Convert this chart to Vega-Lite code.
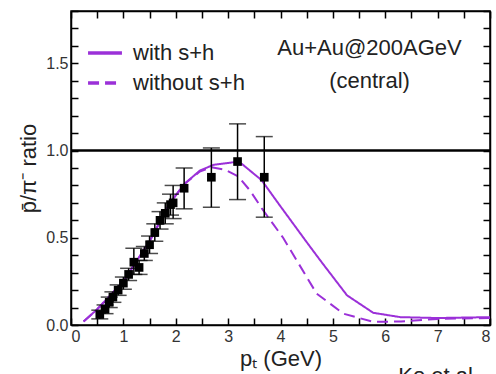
{
  "$schema": "https://vega.github.io/schema/vega-lite/v6.json",
  "width": 419,
  "height": 314,
  "autosize": {"type": "none"},
  "padding": {"left": 71, "top": 11, "right": 6, "bottom": 49},
  "background": "white",
  "config": {
    "font": "Liberation Sans",
    "view": {"stroke": "black", "strokeWidth": 1.5},
    "axis": {
      "domainColor": "black",
      "domainWidth": 1.5,
      "tickColor": "black",
      "tickWidth": 1.5,
      "tickSize": -7,
      "grid": false,
      "labelFont": "Liberation Sans",
      "labelFontSize": 16,
      "labelColor": "#333333",
      "titleFont": "Liberation Sans",
      "titleFontWeight": "normal",
      "titleColor": "#222222",
      "titleFontSize": 22
    },
    "legend": {
      "orient": "none",
      "legendX": 15,
      "legendY": 23,
      "labelFont": "Liberation Sans",
      "labelFontSize": 22,
      "labelColor": "#222222",
      "symbolType": "stroke",
      "symbolSize": 1150,
      "symbolStrokeWidth": 3.5,
      "symbolStrokeColor": "#9b30d8",
      "rowPadding": -9,
      "labelOffset": 9,
      "title": null
    }
  },
  "datasets": {
    "points": [
      {"pt": 0.55, "r": 0.06, "lo": 0.035, "hi": 0.085},
      {"pt": 0.65, "r": 0.09, "lo": 0.065, "hi": 0.115},
      {"pt": 0.73, "r": 0.13, "lo": 0.1, "hi": 0.16},
      {"pt": 0.8, "r": 0.16, "lo": 0.13, "hi": 0.19},
      {"pt": 0.9, "r": 0.2, "lo": 0.17, "hi": 0.23},
      {"pt": 1.0, "r": 0.24, "lo": 0.205, "hi": 0.275},
      {"pt": 1.1, "r": 0.29, "lo": 0.255, "hi": 0.325},
      {"pt": 1.2, "r": 0.36, "lo": 0.29, "hi": 0.44},
      {"pt": 1.3, "r": 0.33, "lo": 0.29, "hi": 0.37},
      {"pt": 1.4, "r": 0.41, "lo": 0.37, "hi": 0.45},
      {"pt": 1.5, "r": 0.46, "lo": 0.41, "hi": 0.51},
      {"pt": 1.6, "r": 0.53, "lo": 0.48, "hi": 0.58},
      {"pt": 1.7, "r": 0.6, "lo": 0.55, "hi": 0.65},
      {"pt": 1.8, "r": 0.64, "lo": 0.58, "hi": 0.7},
      {"pt": 1.9, "r": 0.69, "lo": 0.63, "hi": 0.75},
      {"pt": 1.95, "r": 0.7, "lo": 0.61, "hi": 0.8},
      {"pt": 2.16, "r": 0.784, "lo": 0.666, "hi": 0.9},
      {"pt": 2.68, "r": 0.847, "lo": 0.675, "hi": 1.015},
      {"pt": 3.18, "r": 0.937, "lo": 0.719, "hi": 1.153},
      {"pt": 3.69, "r": 0.847, "lo": 0.618, "hi": 1.08}
    ],
    "curves": [
      {"pt": 0.24, "r": 0.02, "model": "with s+h"},
      {"pt": 0.5, "r": 0.09, "model": "with s+h"},
      {"pt": 1.0, "r": 0.25, "model": "with s+h"},
      {"pt": 1.5, "r": 0.48, "model": "with s+h"},
      {"pt": 1.89, "r": 0.7, "model": "with s+h"},
      {"pt": 2.17, "r": 0.81, "model": "with s+h"},
      {"pt": 2.46, "r": 0.885, "model": "with s+h"},
      {"pt": 2.72, "r": 0.918, "model": "with s+h"},
      {"pt": 3.1, "r": 0.933, "model": "with s+h"},
      {"pt": 3.26, "r": 0.924, "model": "with s+h"},
      {"pt": 3.64, "r": 0.83, "model": "with s+h"},
      {"pt": 4.0, "r": 0.68, "model": "with s+h"},
      {"pt": 4.5, "r": 0.475, "model": "with s+h"},
      {"pt": 4.76, "r": 0.37, "model": "with s+h"},
      {"pt": 5.27, "r": 0.17, "model": "with s+h"},
      {"pt": 5.77, "r": 0.07, "model": "with s+h"},
      {"pt": 6.29, "r": 0.045, "model": "with s+h"},
      {"pt": 7.0, "r": 0.04, "model": "with s+h"},
      {"pt": 8.0, "r": 0.045, "model": "with s+h"},
      {"pt": 0.24, "r": 0.02, "model": "without s+h"},
      {"pt": 0.5, "r": 0.09, "model": "without s+h"},
      {"pt": 1.0, "r": 0.25, "model": "without s+h"},
      {"pt": 1.5, "r": 0.48, "model": "without s+h"},
      {"pt": 1.89, "r": 0.7, "model": "without s+h"},
      {"pt": 2.17, "r": 0.81, "model": "without s+h"},
      {"pt": 2.46, "r": 0.88, "model": "without s+h"},
      {"pt": 2.68, "r": 0.905, "model": "without s+h"},
      {"pt": 2.94, "r": 0.89, "model": "without s+h"},
      {"pt": 3.2, "r": 0.85, "model": "without s+h"},
      {"pt": 3.42, "r": 0.77, "model": "without s+h"},
      {"pt": 3.64, "r": 0.67, "model": "without s+h"},
      {"pt": 4.05, "r": 0.5, "model": "without s+h"},
      {"pt": 4.69, "r": 0.18, "model": "without s+h"},
      {"pt": 5.2, "r": 0.065, "model": "without s+h"},
      {"pt": 5.77, "r": 0.018, "model": "without s+h"},
      {"pt": 6.3, "r": 0.02, "model": "without s+h"},
      {"pt": 7.0, "r": 0.035, "model": "without s+h"},
      {"pt": 8.0, "r": 0.04, "model": "without s+h"}
    ],
    "notes": [
      {"pt": 5.7, "r": 1.59, "label": "Au+Au@200AGeV"},
      {"pt": 5.7, "r": 1.4, "label": "(central)"}
    ],
    "credit": [
      {"pt": 6.25, "r": -0.235, "label": "Ko et al."}
    ]
  },
  "resolve": {"axis": {"x": "independent", "y": "independent"}},
  "layer": [
    {
      "data": {"values": [{"ref": 1}]},
      "mark": {"type": "rule", "color": "black", "strokeWidth": 2.5},
      "encoding": {
        "y": {"field": "ref", "type": "quantitative", "scale": {"domain": [0, 1.8], "nice": false, "zero": false},
          "axis": {
            "orient": "left",
            "values": [0, 0.1, 0.2, 0.3, 0.4, 0.5, 0.6, 0.7, 0.8, 0.9, 1, 1.1, 1.2, 1.3, 1.4, 1.5, 1.6, 1.7, 1.8],
            "labelExpr": "(datum.value == 0 || datum.value == 0.5 || datum.value == 1 || datum.value == 1.5) ? format(datum.value, '.1f') : ''",
            "labelPadding": 10,
            "title": "p̄/π⁻ ratio",
            "titlePadding": 5
          }
        }
      }
    },
    {
      "data": {"name": "curves"},
      "mark": {"type": "line", "strokeWidth": 2, "color": "#9b30d8"},
      "encoding": {
        "x": {"field": "pt", "type": "quantitative", "scale": {"domain": [0, 8], "nice": false, "zero": false},
          "axis": {
            "orient": "bottom",
            "values": [0, 0.5, 1, 1.5, 2, 2.5, 3, 3.5, 4, 4.5, 5, 5.5, 6, 6.5, 7, 7.5, 8],
            "labelExpr": "datum.value % 1 == 0 ? format(datum.value, 'd') : ''",
            "labelPadding": 10,
            "title": "pₜ (GeV)",
            "titlePadding": 4
          }
        },
        "y": {"field": "r", "type": "quantitative",
          "axis": {
            "orient": "right",
            "values": [0, 0.1, 0.2, 0.3, 0.4, 0.5, 0.6, 0.7, 0.8, 0.9, 1, 1.1, 1.2, 1.3, 1.4, 1.5, 1.6, 1.7, 1.8],
            "labels": false,
            "title": null
          }
        },
        "strokeDash": {"field": "model", "type": "nominal",
          "scale": {"domain": ["with s+h", "without s+h"], "range": [[1, 0], [11, 6]]}
        },
        "detail": {"field": "model"}
      }
    },
    {
      "data": {"name": "points"},
      "mark": {"type": "rule", "color": "black", "strokeWidth": 1.5},
      "encoding": {
        "x": {"field": "pt", "type": "quantitative",
          "axis": {
            "orient": "top",
            "values": [0, 0.5, 1, 1.5, 2, 2.5, 3, 3.5, 4, 4.5, 5, 5.5, 6, 6.5, 7, 7.5, 8],
            "labels": false,
            "title": null
          }
        },
        "y": {"field": "lo", "type": "quantitative", "axis": null},
        "y2": {"field": "hi"}
      }
    },
    {
      "data": {"name": "points"},
      "mark": {"type": "tick", "orient": "horizontal", "color": "black", "size": 17, "thickness": 1.5},
      "encoding": {
        "x": {"field": "pt", "type": "quantitative", "axis": null},
        "y": {"field": "lo", "type": "quantitative", "axis": null}
      }
    },
    {
      "data": {"name": "points"},
      "mark": {"type": "tick", "orient": "horizontal", "color": "black", "size": 17, "thickness": 1.5},
      "encoding": {
        "x": {"field": "pt", "type": "quantitative", "axis": null},
        "y": {"field": "hi", "type": "quantitative", "axis": null}
      }
    },
    {
      "data": {"name": "points"},
      "mark": {"type": "square", "color": "black", "filled": true, "opacity": 1, "size": 75},
      "encoding": {
        "x": {"field": "pt", "type": "quantitative", "axis": null},
        "y": {"field": "r", "type": "quantitative", "axis": null}
      }
    },
    {
      "data": {"name": "notes"},
      "mark": {"type": "text", "font": "Liberation Sans", "fontSize": 22, "color": "#222222", "align": "center", "baseline": "middle"},
      "encoding": {
        "x": {"field": "pt", "type": "quantitative", "axis": null},
        "y": {"field": "r", "type": "quantitative", "axis": null},
        "text": {"field": "label"}
      }
    },
    {
      "data": {"name": "credit"},
      "mark": {"type": "text", "font": "Liberation Sans", "fontSize": 22, "color": "#222222", "align": "left", "baseline": "top"},
      "encoding": {
        "x": {"field": "pt", "type": "quantitative", "axis": null},
        "y": {"field": "r", "type": "quantitative", "axis": null},
        "text": {"field": "label"}
      }
    }
  ]
}
